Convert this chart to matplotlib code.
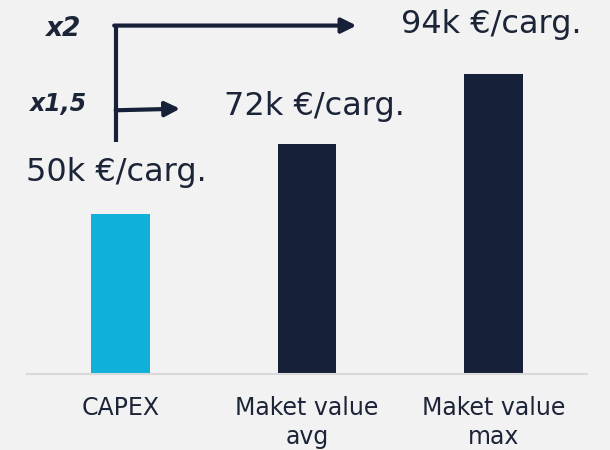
import matplotlib.pyplot as plt

# données
categories = ['CAPEX', 'Maket value\navg', 'Maket value\nmax']
valeurs = [50, 72, 94]
etiquettes = ['50k €/carg.', '72k €/carg.', '94k €/carg.']

fond = '#f2f2f2'
bleu = '#0fb1da'
marine = '#162038'
texte = '#1c2438'
couleurs = [bleu, marine, marine]

fig = plt.figure(figsize=(6.1, 4.5), dpi=100, facecolor=fond)
ax = fig.add_axes([27 / 610, 76 / 450, 560 / 610, 374 / 450], facecolor=fond)

x = list(range(len(categories)))
ax.bar(x, valeurs, width=0.316, color=couleurs)

# étiquettes au-dessus des barres (décalage en points)
decalages = [(-3, 30), (5, 27), (-2, 35)]
for xi, v, lab, (dx, dy) in zip(x, valeurs, etiquettes, decalages):
    ax.annotate(lab, xy=(xi, v), xytext=(dx, dy), textcoords='offset points',
                ha='center', va='center', fontsize=23, color=texte)

ax.set_xlim(-0.5, 2.5)
ax.set_ylim(0, 117)
ax.set_xticks(x)
ax.set_xticklabels(categories, fontsize=17, color=texte, linespacing=1.27)
ax.tick_params(axis='x', length=0, pad=16)
ax.set_yticks([])
for s in ['top', 'left', 'right']:
    ax.spines[s].set_visible(False)
ax.spines['bottom'].set_color('#d9d9d9')
ax.spines['bottom'].set_linewidth(1.5)

# flèches des multiplicateurs
x0 = -0.025
ax.plot([x0, x0], [72.5, 109], color=marine, lw=3, solid_capstyle='butt', clip_on=False)
fleche = dict(arrowstyle='-|>', lw=3, color=marine, mutation_scale=22, shrinkA=0, shrinkB=0)
ax.annotate('', xy=(1.265, 109), xytext=(x0 - 0.008, 109), arrowprops=fleche, annotation_clip=False)
ax.annotate('', xy=(0.32, 83), xytext=(x0, 82.5), arrowprops=fleche, annotation_clip=False)

ax.text(-0.31, 108, 'x2', ha='center', va='center', fontsize=19,
        fontweight='bold', fontstyle='italic', color=texte)
ax.text(-0.33, 84.5, 'x1,5', ha='center', va='center', fontsize=17,
        fontweight='bold', fontstyle='italic', color=texte)

fig.savefig('out.png', dpi=100, facecolor=fond)
